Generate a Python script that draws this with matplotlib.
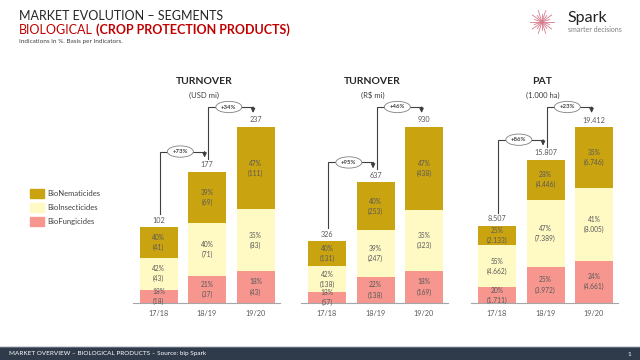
import matplotlib
matplotlib.use('Agg')
import matplotlib.pyplot as plt
from matplotlib.patches import Rectangle
import numpy as np

plt.rcParams['font.family'] = ['Lato', 'DejaVu Sans']

# ---- data ----
years = ['17/18', '18/19', '19/20']
segments = ['BioNematicides', 'BioInsecticides', 'BioFungicides']

panel_titles = ['TURNOVER', 'TURNOVER', 'PAT']
panel_units = ['(USD mi)', '(R$ mi)', '(1.000 ha)']

usd_fung = [18, 37, 43]
usd_ins = [43, 71, 83]
usd_nem = [41, 69, 111]
usd_total = [102, 177, 237]
usd_fung_pct = [18, 21, 18]
usd_ins_pct = [42, 40, 35]
usd_nem_pct = [40, 39, 47]
usd_growth = ['+73%', '+34%']

brl_fung = [57, 138, 169]
brl_ins = [138, 247, 323]
brl_nem = [131, 253, 438]
brl_total = [326, 637, 930]
brl_fung_pct = [18, 22, 18]
brl_ins_pct = [42, 39, 35]
brl_nem_pct = [40, 40, 47]
brl_growth = ['+95%', '+46%']

pat_fung = [1711, 3972, 4661]
pat_ins = [4662, 7389, 8005]
pat_nem = [2133, 4446, 6746]
pat_total = [8507, 15807, 19412]
pat_fung_pct = [20, 25, 24]
pat_ins_pct = [55, 47, 41]
pat_nem_pct = [25, 28, 35]
pat_growth = ['+86%', '+23%']

panels = [
    (usd_fung, usd_ins, usd_nem, usd_total, usd_fung_pct, usd_ins_pct, usd_nem_pct, usd_growth),
    (brl_fung, brl_ins, brl_nem, brl_total, brl_fung_pct, brl_ins_pct, brl_nem_pct, brl_growth),
    (pat_fung, pat_ins, pat_nem, pat_total, pat_fung_pct, pat_ins_pct, pat_nem_pct, pat_growth),
]

col_nem = '#CAA311'
col_ins = '#FFF9C4'
col_fung = '#F6968F'
txt_col = '#595959'
line_col = '#404040'

W, H = 640, 360


def fmt(v):
    # thousands with a dot, like 15.807
    return '{:,}'.format(v).replace(',', '.')


fig = plt.figure(figsize=(6.4, 3.6), dpi=100)
renderer = fig.canvas.get_renderer()

# background axes in pixel coords (y down)
bg = fig.add_axes([0, 0, 1, 1])
bg.set_xlim(0, W)
bg.set_ylim(H, 0)
bg.axis('off')

bg.text(19, 16, 'MARKET EVOLUTION \u2013 SEGMENTS', fontsize=9, color='#262626', va='center')
t1 = bg.text(19, 30, 'BIOLOGICAL', fontsize=9, color='#C00000', va='center')
x_end = bg.transData.inverted().transform(t1.get_window_extent(renderer))[1][0]
bg.text(x_end + 3, 30, '(CROP PROTECTION PRODUCTS)', fontsize=9, color='#C00000',
        va='center', fontweight='bold')
bg.text(19, 42, 'Indications in %. Basis per Indicators.', fontsize=4.6, color='#404040', va='center')

# logo
cx, cy = 542, 22
angles = np.linspace(0, 2 * np.pi, 20, endpoint=False)
for k, a in enumerate(angles):
    r = 12 if k % 2 == 0 else 8
    bg.plot([cx, cx + r * np.cos(a)], [cy, cy + r * np.sin(a)], color='#D77A8C', lw=0.6)
bg.text(567, 18, 'Spark', fontsize=11.5, color='#222222', va='center')
bg.text(568, 29, 'smarter decisions', fontsize=5, color='#7F7F7F', va='center')

# footer
bg.add_patch(Rectangle((0, 347), W, 13, color='#2F3B4B'))
bg.plot([0, W], [347, 347], color='#6A7686', lw=0.6)
bg.text(9, 354, 'MARKET OVERVIEW \u2013 BIOLOGICAL PRODUCTS \u2013 Source: bip Spark',
        fontsize=4.6, color='white', va='center')
bg.text(628, 354, '1', fontsize=4.6, color='white', va='center')

# legend
for lab, col, y in zip(segments, [col_nem, col_ins, col_fung], [193, 207.5, 221.5]):
    bg.add_patch(Rectangle((30, y - 4.5), 14, 9, color=col))
    bg.text(47, y, lab, fontsize=5.5, color='#404040', va='center')

# panels
centers0 = [158.5, 327, 497]
step = 48.5
base_px = 303
top_px = 60
ax_left_off = 26
ax_w = 147

for p, (fung, ins, nem, tot, fp, ip, np_, growth) in enumerate(panels):
    c0 = centers0[p]
    left = c0 - ax_left_off
    ax = fig.add_axes([left / W, (H - base_px) / H, ax_w / W, (base_px - top_px) / H])
    ax.patch.set_alpha(0)
    vmax = max(tot)
    dy = vmax / 176.0  # data units per pixel, tallest bar ~176 px
    ax.set_ylim(0, (base_px - top_px) * dy)
    ax.set_xlim(-ax_left_off / step, (ax_w - ax_left_off) / step)
    x = np.arange(len(years))
    bw = 38 / step
    fung = np.array(fung)
    ins = np.array(ins)
    nem = np.array(nem)
    ax.bar(x, fung, bw, color=col_fung)
    ax.bar(x, ins, bw, bottom=fung, color=col_ins)
    ax.bar(x, nem, bw, bottom=fung + ins, color=col_nem)

    for i in range(len(years)):
        for val, pct, bot in [(fung[i], fp[i], 0), (ins[i], ip[i], fung[i]),
                              (nem[i], np_[i], fung[i] + ins[i])]:
            ax.text(x[i], bot + val / 2, '{:d}%\n({:s})'.format(pct, fmt(int(val))),
                    ha='center', va='center', fontsize=4.8, color=txt_col, linespacing=1.5)
        ax.text(x[i], tot[i] + 7 * dy, fmt(tot[i]), ha='center', va='center',
                fontsize=5.2, color=txt_col)

    # growth arrows
    for j in range(2):
        xs = j + 0.03
        xd = j + 1 - 0.05
        y0 = tot[j] + 13 * dy
        yl = tot[j + 1] + 20 * dy
        yt = tot[j + 1] + 14 * dy
        ax.plot([xs, xs, xd, xd], [y0, yl, yl, yl - 1.5 * dy], color=line_col, lw=0.8,
                solid_joinstyle='miter')
        ax.annotate('', xy=(xd, yt), xytext=(xd, yl),
                    arrowprops=dict(arrowstyle='-|>,head_length=0.25,head_width=0.12',
                                    color=line_col, lw=0.8, shrinkA=0, shrinkB=0))
        ax.text(j + 0.45, yl, growth[j], ha='center', va='center', fontsize=4.3,
                fontweight='bold', color='#404040',
                bbox=dict(boxstyle='ellipse,pad=0.25', fc='white', ec='#808080', lw=0.6))

    ax.set_xticks(x)
    ax.set_xticklabels(years, fontsize=5.2, color=txt_col)
    ax.tick_params(axis='x', length=0, pad=5)
    ax.set_yticks([])
    for s in ['top', 'right', 'left']:
        ax.spines[s].set_visible(False)
    ax.spines['bottom'].set_color('#A6A6A6')
    ax.spines['bottom'].set_linewidth(0.8)

    tc = c0 + step
    bg.text(tc - 3, 82, panel_titles[p], fontsize=7.5, fontweight='bold', color='#262626',
            ha='center', va='center')
    bg.text(tc - 3, 95, panel_units[p], fontsize=5.5, color='#404040', ha='center', va='center')

fig.savefig('out.png', dpi=100)
